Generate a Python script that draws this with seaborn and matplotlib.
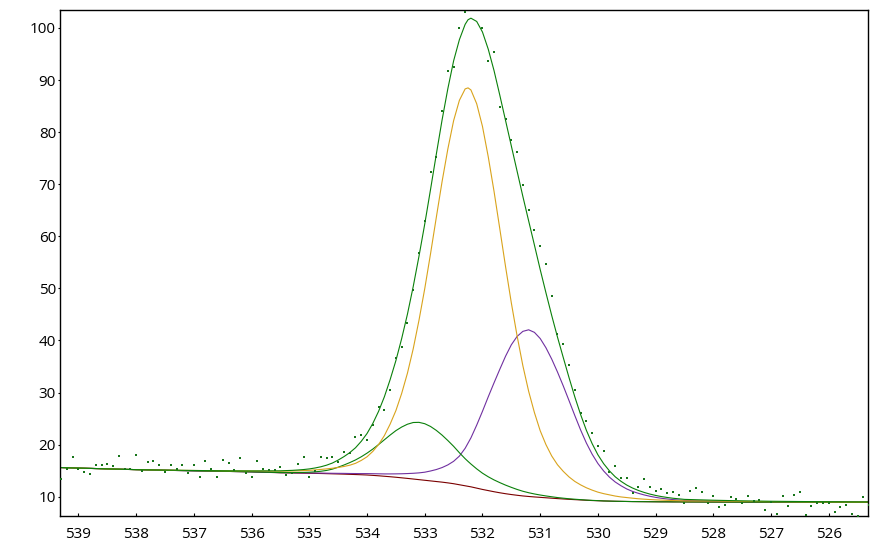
import numpy as np
import pandas as pd
import matplotlib
matplotlib.use("Agg")
import matplotlib.pyplot as plt
import seaborn as sns

be_data = [
    539.3, 539.2, 539.1, 539.0, 538.9, 538.8, 538.7, 538.6, 538.5, 538.4,
    538.3, 538.2, 538.1, 538.0, 537.9, 537.8, 537.7, 537.6, 537.5, 537.4,
    537.3, 537.2, 537.1, 537.0, 536.9, 536.8, 536.7, 536.6, 536.5, 536.4,
    536.3, 536.2, 536.1, 536.0, 535.9, 535.8, 535.7, 535.6, 535.5, 535.4,
    535.3, 535.2, 535.1, 535.0, 534.9, 534.8, 534.7, 534.6, 534.5, 534.4,
    534.3, 534.2, 534.1, 534.0, 533.9, 533.8, 533.7, 533.6, 533.5, 533.4,
    533.3, 533.2, 533.1, 533.0, 532.9, 532.8, 532.7, 532.6, 532.5, 532.4,
    532.3, 532.2, 532.1, 532.0, 531.9, 531.8, 531.7, 531.6, 531.5, 531.4,
    531.3, 531.2, 531.1, 531.0, 530.9, 530.8, 530.7, 530.6, 530.5, 530.4,
    530.3, 530.2, 530.1, 530.0, 529.9, 529.8, 529.7, 529.6, 529.5, 529.4,
    529.3, 529.2, 529.1, 529.0, 528.9, 528.8, 528.7, 528.6, 528.5, 528.4,
    528.3, 528.2, 528.1, 528.0, 527.9, 527.8, 527.7, 527.6, 527.5, 527.4,
    527.3, 527.2, 527.1, 527.0, 526.9, 526.8, 526.7, 526.6, 526.5, 526.4,
    526.3, 526.2, 526.1, 526.0, 525.9, 525.8, 525.7, 525.6, 525.5, 525.4,
    525.3,
]
cps_data = [
    13.4, 15.4, 17.7, 15.4, 14.75, 14.4, 16.1, 16.15, 16.3, 15.9,
    17.9, 15.4, 15.4, 18.1, 15.0, 16.7, 16.9, 16.0, 14.75, 16.0,
    15.3, 16.0, 14.6, 16.15, 13.85, 16.9, 15.25, 13.85, 17.05, 16.5,
    15.2, 17.5, 14.6, 13.85, 16.9, 15.25, 15.1, 15.2, 15.75, 14.1,
    14.5, 16.35, 17.7, 13.85, 14.9, 17.7, 17.5, 17.7, 16.7, 18.65,
    18.45, 21.5, 21.85, 20.8, 23.8, 27.3, 26.7, 30.4, 36.7, 38.8,
    43.4, 49.6, 56.8, 62.85, 72.3, 75.3, 84.1, 91.7, 92.6, 99.9,
    103.0, 104.5, 103.6, 99.9, 93.7, 95.3, 84.75, 82.5, 78.4, 76.1,
    69.8, 65.0, 61.25, 58.2, 54.6, 48.6, 41.2, 39.3, 35.2, 30.4,
    26.1, 24.5, 22.2, 19.8, 18.8, 14.8, 15.95, 13.65, 13.65, 10.8,
    11.9, 13.4, 11.8, 11.1, 11.5, 10.8, 10.85, 10.3, 8.7, 11.1,
    11.7, 10.95, 8.7, 10.1, 8.0, 8.4, 10.0, 9.55, 8.85, 10.1,
    9.2, 9.4, 7.45, 8.9, 6.7, 10.2, 8.2, 10.3, 10.95, 6.5,
    8.2, 8.85, 8.85, 8.7, 7.1, 8.0, 8.4, 6.7, 6.3, 10.0,
    8.4,
]

# Fit curves (each drawn on top of the background), sampled on be_fit
be_fit = [
    539.3, 539.0, 538.5, 538.0, 537.5, 537.0, 536.5, 536.0,
    535.5, 535.4, 535.3, 535.2, 535.1, 535.0, 534.9, 534.8, 534.7, 534.6,
    534.5, 534.4, 534.3, 534.2, 534.1, 534.0, 533.9, 533.8, 533.7, 533.6,
    533.5, 533.4, 533.3, 533.2, 533.1, 533.0, 532.9, 532.8, 532.7, 532.6,
    532.5, 532.4, 532.3, 532.25, 532.2, 532.1, 532.0, 531.9, 531.8, 531.7, 531.6,
    531.5, 531.4, 531.3, 531.2, 531.1, 531.0, 530.9, 530.8, 530.7, 530.6,
    530.5, 530.4, 530.3, 530.2, 530.1, 530.0, 529.9, 529.8, 529.7, 529.6,
    529.5, 529.4, 529.3, 529.2, 529.1, 529.0, 528.9, 528.8, 528.7, 528.6,
    528.5,
    528.0, 527.5, 527.0, 526.5, 526.0, 525.5, 525.3,
]
background = [
    15.6, 15.5, 15.35, 15.2, 15.08, 14.98, 14.88, 14.78,
    14.6, 14.58, 14.56, 14.54, 14.52, 14.5, 14.48, 14.46, 14.43, 14.4,
    14.37, 14.34, 14.3, 14.26, 14.22, 14.17, 14.1, 14.02, 13.93, 13.84,
    13.74, 13.63, 13.52, 13.4, 13.28, 13.16, 13.04, 12.92, 12.8, 12.66,
    12.5, 12.3, 12.1, 12.0, 11.9, 11.65, 11.4, 11.18, 10.96, 10.76, 10.58,
    10.42, 10.28, 10.15, 10.05, 9.96, 9.88, 9.8, 9.72, 9.64, 9.57,
    9.5, 9.44, 9.38, 9.32, 9.27, 9.23, 9.19, 9.16, 9.13, 9.11,
    9.09, 9.07, 9.06, 9.05, 9.04, 9.03, 9.02, 9.02, 9.01, 9.01,
    9.0,
    8.98, 8.97, 8.96, 8.95, 8.94, 8.93, 8.93,
]
peak_533 = [
    15.6, 15.5, 15.35, 15.2, 15.08, 14.98, 14.88, 14.78,
    14.64, 14.64, 14.64, 14.65, 14.67, 14.71, 14.78, 14.89, 15.05, 15.3,
    15.67, 16.09, 16.55, 17.06, 17.67, 18.37, 19.15, 20.02, 20.93, 21.84,
    22.69, 23.38, 23.92, 24.25, 24.28, 24.02, 23.49, 22.74, 21.83, 20.79,
    19.68, 18.45, 17.3, 16.78, 16.28, 15.35, 14.52, 13.83, 13.23, 12.71, 12.23,
    11.8, 11.4, 11.05, 10.77, 10.53, 10.33, 10.15, 9.99, 9.84, 9.72,
    9.61, 9.52, 9.44, 9.36, 9.3, 9.25, 9.19, 9.16, 9.13, 9.11,
    9.09, 9.07, 9.06, 9.05, 9.04, 9.03, 9.02, 9.02, 9.01, 9.01,
    9.0,
    8.98, 8.97, 8.96, 8.95, 8.94, 8.93, 8.93,
]
peak_532 = [
    15.6, 15.5, 15.35, 15.2, 15.11, 15.04, 14.98, 14.95,
    14.9, 14.92, 14.94, 14.97, 15.02, 15.07, 15.15, 15.24, 15.35, 15.47,
    15.62, 15.81, 16.05, 16.41, 16.97, 17.67, 18.7, 20.02, 21.73, 23.94,
    26.54, 29.83, 33.72, 38.4, 43.88, 49.96, 56.64, 63.62, 70.5, 76.76,
    82.2, 86.1, 88.3, 88.5, 88.1, 85.45, 81.1, 75.28, 68.66, 61.46, 54.18,
    47.22, 40.88, 35.15, 30.25, 26.16, 22.68, 20.0, 17.82, 16.14, 14.87,
    13.8, 12.94, 12.28, 11.72, 11.27, 10.88, 10.59, 10.36, 10.13, 9.96,
    9.84, 9.72, 9.61, 9.53, 9.46, 9.4, 9.35, 9.31, 9.27, 9.24,
    9.2,
    9.18, 9.11, 9.06, 9.03, 9.0, 8.98, 8.98,
]
peak_531 = [
    15.6, 15.5, 15.35, 15.2, 15.08, 14.98, 14.88, 14.78,
    14.63, 14.62, 14.6, 14.59, 14.57, 14.56, 14.55, 14.54, 14.52, 14.5,
    14.49, 14.48, 14.46, 14.45, 14.44, 14.44, 14.42, 14.4, 14.38, 14.38,
    14.39, 14.41, 14.45, 14.5, 14.58, 14.71, 14.94, 15.22, 15.6, 16.11,
    16.8, 17.8, 19.3, 20.3, 21.3, 23.75, 26.4, 29.18, 31.86, 34.46, 36.98,
    39.17, 40.78, 41.75, 42.05, 41.56, 40.38, 38.6, 36.42, 33.94, 31.27,
    28.45, 25.59, 22.83, 20.32, 18.17, 16.38, 14.94, 13.76, 12.83, 12.11,
    11.49, 11.02, 10.66, 10.35, 10.09, 9.88, 9.7, 9.57, 9.45, 9.37,
    9.29,
    9.13, 9.07, 9.03, 9.0, 8.98, 8.96, 8.96,
]
envelope = [
    15.6, 15.5, 15.35, 15.2, 15.11, 15.04, 14.98, 14.95,
    14.97, 15.02, 15.06, 15.13, 15.22, 15.34, 15.52, 15.75, 16.06, 16.47,
    17.04, 17.7, 18.46, 19.4, 20.64, 22.14, 24.07, 26.4, 29.18, 32.48,
    36.14, 40.36, 45.05, 50.35, 56.18, 62.37, 68.99, 75.74, 82.33, 88.34,
    93.68, 97.75, 100.7, 101.58, 101.88, 101.25, 99.22, 95.93, 91.83, 87.11, 82.23,
    77.35, 72.5, 67.65, 62.97, 58.33, 53.63, 49.15, 44.79, 40.64, 36.72,
    32.86, 29.17, 25.79, 22.76, 20.2, 18.05, 16.34, 14.96, 13.83, 12.96,
    12.24, 11.67, 11.21, 10.83, 10.51, 10.25, 10.03, 9.86, 9.71, 9.6,
    9.49,
    9.33, 9.21, 9.13, 9.08, 9.04, 9.01, 9.01,
]

x_ticks = [539, 538, 537, 536, 535, 534, 533, 532, 531, 530, 529, 528, 527, 526]
y_ticks = [10, 20, 30, 40, 50, 60, 70, 80, 90, 100]

sns.set_theme(style="ticks", rc={
    "axes.edgecolor": "black",
    "axes.linewidth": 1.0,
    "xtick.color": "black",
    "ytick.color": "black",
})
plt.rcParams["font.family"] = ["Open Sans", "DejaVu Sans"]

fig = plt.figure(figsize=(8.78, 5.5), dpi=100)
ax = fig.add_axes([60 / 878, 1 - 516 / 550, 808 / 878, 506 / 550])

lw = 0.8
curves = [
    (background, "#7a0000"),
    (peak_531, "#7030a0"),
    (peak_533, "#0a800a"),
    (peak_532, "#d9a31c"),
    (envelope, "#0a800a"),
]
for values, color in curves:
    sns.lineplot(x=be_fit, y=values, ax=ax, color=color, linewidth=lw,
                 estimator=None, sort=False)

sns.scatterplot(x=be_data, y=cps_data, ax=ax, color="#17751a", marker="s",
                s=4, linewidth=0, zorder=5)

ax.set_xlim(539.32, 525.32)
ax.set_ylim(6.3, 103.45)
ax.set_xticks(x_ticks)
ax.set_yticks(y_ticks)
ax.set_xlabel("")
ax.set_ylabel("")
ax.tick_params(axis="x", direction="in", length=2, width=0.8, pad=8, labelsize=11)
ax.tick_params(axis="y", direction="out", length=1.8, width=0.8, pad=1, labelsize=11)
for side in ["top", "right", "left", "bottom"]:
    ax.spines[side].set_visible(True)
    ax.spines[side].set_linewidth(1.0)

fig.savefig("out.png", dpi=100, facecolor="white")
